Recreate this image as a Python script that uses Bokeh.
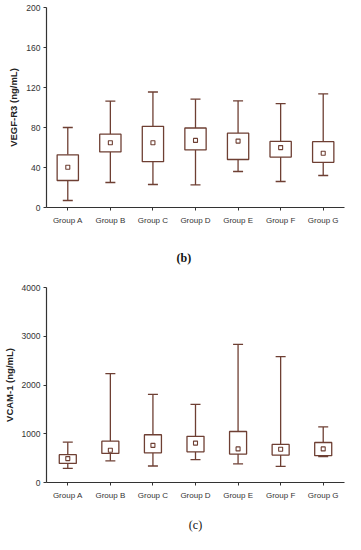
import numpy as np
from bokeh.plotting import figure
from bokeh.layouts import column
from bokeh.models import FactorRange, Range1d, FixedTicker, Title
from bokeh.embed import file_html
from bokeh.resources import INLINE

groups = ["Group A", "Group B", "Group C", "Group D", "Group E", "Group F", "Group G"]

# VEGF-R3 (ng/mL)
vegf_min = [7, 25, 23, 22.6, 36, 26, 32]
vegf_q1 = [27, 55.6, 45.8, 57.6, 48, 50.4, 45.2]
vegf_q3 = [52.7, 73.3, 81.2, 79.5, 74.3, 66.1, 65.8]
vegf_max = [80, 106.4, 115.5, 108.3, 106.7, 103.8, 113.6]
vegf_mean = [40.3, 64.8, 64.8, 67.1, 66.4, 59.9, 54.3]
vegf_ticks = [0, 40, 80, 120, 160, 200]

# VCAM-1 (ng/mL)
vcam_min = [291, 444, 338, 470, 384, 331, 530]
vcam_q1 = [391, 596, 609, 629, 583, 563, 550]
vcam_q3 = [570, 848, 980, 947, 1046, 781, 821]
vcam_max = [828, 2232, 1808, 1603, 2834, 2583, 1139]
vcam_mean = [490, 662, 762, 808, 689, 682, 689]
vcam_ticks = [0, 1000, 2000, 3000, 4000]

BROWN = "#6e3f33"
AXIS = "#333333"


def make_box(ylabel, ymax, ticks, mn, q1, q3, mx, mean, box_w, height, left, top):
    p = figure(x_range=FactorRange(*groups, range_padding=0), y_range=Range1d(0, ymax),
               width=345, height=height, output_backend="svg", toolbar_location=None,
               min_border_left=left, min_border_right=1, min_border_top=top,
               min_border_bottom=0)
    p.outline_line_color = None
    p.xgrid.grid_line_color = None
    p.ygrid.grid_line_color = None
    p.background_fill_color = "white"
    p.border_fill_color = "white"

    p.segment(x0=groups, y0=mn, x1=groups, y1=q1, line_color=BROWN, line_width=1.3)
    p.segment(x0=groups, y0=q3, x1=groups, y1=mx, line_color=BROWN, line_width=1.3)
    p.scatter(x=groups, y=mn, marker="dash", size=10, line_color=BROWN, line_width=1.3)
    p.scatter(x=groups, y=mx, marker="dash", size=10, line_color=BROWN, line_width=1.3)
    p.vbar(x=groups, bottom=q1, top=q3, width=box_w, fill_color="white",
           line_color=BROWN, line_width=1.3)
    p.scatter(x=groups, y=mean, marker="square", size=4, fill_color="white",
              line_color=BROWN, line_width=1.1)

    for ax in (p.xaxis[0], p.yaxis[0]):
        ax.axis_line_color = AXIS
        ax.axis_line_width = 1.2
        ax.major_tick_line_color = AXIS
        ax.major_tick_out = 3
        ax.major_tick_in = 0
        ax.minor_tick_line_color = None
        ax.major_label_text_font = "Liberation Sans"
        ax.major_label_text_color = "#333333"
    p.xaxis[0].major_label_text_font_size = "8px"
    p.yaxis[0].major_label_text_font_size = "8.5px"
    p.yaxis[0].major_label_standoff = 3
    p.xaxis[0].major_label_standoff = 5
    p.yaxis[0].ticker = FixedTicker(ticks=ticks)
    p.yaxis[0].axis_label = ylabel
    p.yaxis[0].axis_label_text_font = "Liberation Sans"
    p.yaxis[0].axis_label_text_font_style = "bold"
    p.yaxis[0].axis_label_text_font_size = "9.5px"
    p.yaxis[0].axis_label_text_color = "#222222"
    p.yaxis[0].axis_label_standoff = 4
    return p


p1 = make_box("VEGF-R3 (ng/mL)", 200, vegf_ticks,
              vegf_min, vegf_q1, vegf_q3, vegf_max, vegf_mean, 0.5, 227, 30, 7)
p2 = make_box("VCAM-1 (ng/mL)", 4000, vcam_ticks,
              vcam_min, vcam_q1, vcam_q3, vcam_max, vcam_mean, 0.4, 307, 37, 60)

# panel caption (b): placed above the second chart
tb = Title(text="(b)", align="left", vertical_align="top", text_font="Liberation Serif",
           text_font_size="12px", text_font_style="bold", text_color="#111111",
           standoff=42, offset=130)
p2.add_layout(tb, "above")

# panel caption (c)
p2.xaxis[0].axis_label = "(c)"
p2.xaxis[0].axis_label_text_font = "Liberation Serif"
p2.xaxis[0].axis_label_text_font_size = "12px"
p2.xaxis[0].axis_label_text_font_style = "normal"
p2.xaxis[0].axis_label_text_color = "#111111"
p2.xaxis[0].axis_label_standoff = 15

layout = column(p1, p2, spacing=0)
open("out.html", "w").write(file_html(layout, INLINE))
